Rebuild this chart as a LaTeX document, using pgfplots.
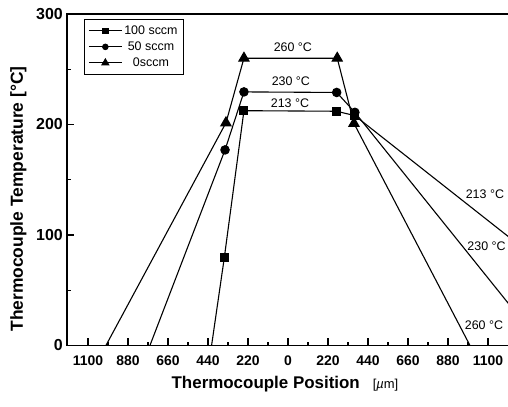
\documentclass[border=0pt]{standalone}
\usepackage{pgfplots}
\pgfplotsset{compat=1.18}
\usepackage{fontspec}
\setmainfont{Liberation Sans}

\begin{document}
\begin{tikzpicture}
\begin{axis}[
  at={(0,0)}, anchor=south west,
  scale only axis, width=443bp, height=331.5bp,
  xmin=-1215, xmax=1221, ymin=0, ymax=300,
  xtick={-1100,-880,-660,-440,-220,0,220,440,660,880,1100},
  xticklabels={1100,880,660,440,220,0,220,440,660,880,1100},
  ytick={0,100,200,300}, yticklabels={0,100,200,300},
  minor x tick num=1, minor y tick num=1,
  tick align=inside, xtick pos=left, ytick pos=left,
  major tick length=7bp, minor tick length=4bp,
  every tick/.style={black, line width=1.2bp},
  axis line style={line width=1.8bp},
  xticklabel style={font=\bfseries\fontsize{14}{14}\selectfont, inner sep=0pt, yshift=-10.5bp},
  yticklabel style={font=\bfseries\fontsize{16}{16}\selectfont, inner sep=0pt, xshift=-4bp},
  xlabel={{\bfseries\fontsize{17}{17}\selectfont Thermocouple Position}\hspace{13bp}{\fontsize{13}{13}\selectfont [\textit{µ}m]}},
  xlabel style={at={(axis description cs:0.492,-0.0935)}, anchor=north, inner sep=0pt},
  ylabel={Thermocouple Temperature [°C]},
  ylabel style={font=\bfseries\fontsize{17.5}{17.5}\selectfont, at={(axis description cs:-0.1095,0.442)}, anchor=center, inner sep=0pt},
  legend style={at={(axis description cs:0.0384,0.985)}, anchor=north west, draw=black, line width=0.8bp, fill=white,
    font=\fontsize{12.5}{12.5}\selectfont, inner xsep=4bp, inner ysep=4.5bp, row sep=2bp,
    nodes={inner sep=2bp, text height=9bp, text depth=1bp}},
  legend cell align=center,
  legend image code/.code={\draw[mark repeat=2,mark phase=2] plot coordinates {(0bp,0bp) (16.5bp,0bp) (33bp,0bp)};},
]
\addplot[black, line width=1.1bp, mark=square*, mark size=4bp, mark options={solid, fill=black}, mark indices={2,3,4,5}, forget plot]
  coordinates {(-420,0) (-350,79.5) (-242,212.5) (268,212) (368,208) (1972,0)};
\addplot[black, line width=1.1bp, mark=*, mark size=4.2bp, mark options={solid, fill=black}, mark indices={2,3,4,5}, forget plot]
  coordinates {(-759,0) (-346,177) (-242,229.5) (268,229) (368,211) (1398,0)};
\addplot[black, line width=1.1bp, mark=triangle*, mark size=5.8bp, mark options={solid, fill=black}, mark indices={2,3,4,5}, forget plot]
  coordinates {(-1001,0) (-341,201.5) (-242,260) (271,260) (363,201) (1001,0)};

\addlegendimage{black, line width=0.9bp, mark=square*, mark size=2.7bp, mark options={solid, fill=black}}
\addlegendentry{100 sccm}
\addlegendimage{black, line width=0.9bp, mark=*, mark size=2.8bp, mark options={solid, fill=black}}
\addlegendentry{50 sccm}
\addlegendimage{black, line width=0.9bp, mark=triangle*, mark size=4bp, mark options={solid, fill=black}}
\addlegendentry{0sccm}

\node[font=\fontsize{12.5}{12.5}\selectfont] at (axis cs:27,270) {260 °C};
\node[font=\fontsize{12.5}{12.5}\selectfont] at (axis cs:16,239) {230 °C};
\node[font=\fontsize{12.5}{12.5}\selectfont] at (axis cs:11,219) {213 °C};
\node[font=\fontsize{12.5}{12.5}\selectfont] at (axis cs:1083,137) {213 °C};
\node[font=\fontsize{12.5}{12.5}\selectfont] at (axis cs:1092,90) {230 °C};
\node[font=\fontsize{12.5}{12.5}\selectfont] at (axis cs:1078,18) {260 °C};
\end{axis}
\pgfresetboundingbox
\path[use as bounding box] (-67bp,-61.5bp) rectangle (441bp,345.5bp);
\end{tikzpicture}
\end{document}
